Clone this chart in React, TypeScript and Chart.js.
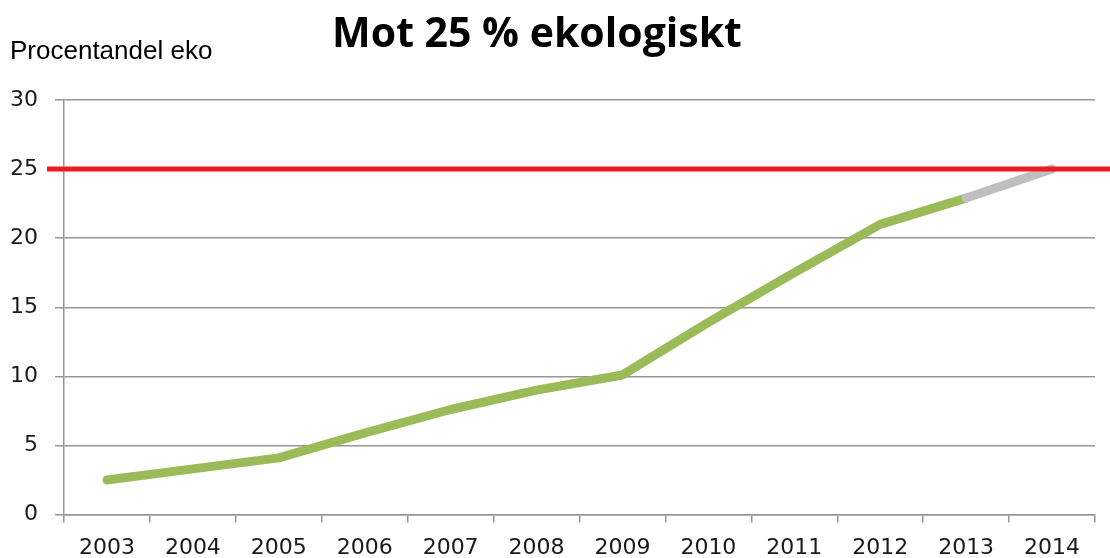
import React, { useEffect, useRef } from "react";
import { Chart, registerables } from "chart.js";

Chart.register(...registerables);

const categories = ["2003", "2004", "2005", "2006", "2007", "2008", "2009", "2010", "2011", "2012", "2013", "2014"];
const ecoShare = [2.5, 3.3, 4.1, 5.9, 7.6, 9.0, 10.1, 13.9, 17.5, 21.0, 22.9, null];
const forecast = [null, null, null, null, null, null, null, null, null, null, 22.9, 25.0];
const targetValue = 25;
const yTicks = [0, 5, 10, 15, 20, 25, 30];
const titleText = "Mot 25 % ekologiskt";
const yAxisTitle = "Procentandel eko";

const overlayPlugin = {
  id: "overlay",
  afterDatasetsDraw(chart: any) {
    const { ctx, scales, chartArea, width } = chart;
    const y = scales.y.getPixelForValue(targetValue);
    ctx.save();
    ctx.strokeStyle = "#ed1c24";
    ctx.lineWidth = 5;
    ctx.beginPath();
    ctx.moveTo(chartArea.left - 17, y);
    ctx.lineTo(width, y);
    ctx.stroke();
    ctx.restore();
  },
  afterDraw(chart: any) {
    const { ctx } = chart;
    ctx.save();
    ctx.fillStyle = "#000000";
    ctx.font = "bold 41px 'Open Sans'";
    ctx.textAlign = "center";
    ctx.textBaseline = "alphabetic";
    ctx.fillText(titleText, 537, 47);
    ctx.font = "26px 'Liberation Sans'";
    ctx.textAlign = "left";
    ctx.fillText(yAxisTitle, 10, 59);
    ctx.restore();
  },
};

export default function App() {
  const ref = useRef<HTMLCanvasElement | null>(null);
  useEffect(() => {
    if (!ref.current) return;
    const chart = new Chart(ref.current, {
      type: "line",
      data: {
        labels: categories,
        datasets: [
          {
            data: forecast,
            borderColor: "#bfbfbf",
            borderWidth: 9,
            borderCapStyle: "round",
            pointRadius: 0,
            order: 0,
            spanGaps: false,
          },
          {
            data: ecoShare,
            borderColor: "#9bbb59",
            borderWidth: 9,
            borderCapStyle: "round",
            borderJoinStyle: "round",
            pointRadius: 0,
            order: 1,
          },
        ],
      },
      options: {
        animation: false,
        responsive: true,
        maintainAspectRatio: false,
        layout: { padding: { top: 100, right: 15, left: 0, bottom: 0 } },
        plugins: { legend: { display: false }, tooltip: { enabled: false }, title: { display: false } },
        scales: {
          x: {
            offset: true,
            grid: { offset: true, drawOnChartArea: false, drawTicks: true, tickLength: 8, color: "#969696", lineWidth: 1.5 },
            border: { color: "#969696", width: 1.5 },
            ticks: { color: "#1a1a1a", font: { family: "DejaVu Sans", size: 22 }, padding: 13, maxRotation: 0, autoSkip: false },
            afterFit: (s: any) => { s.height = 43.5; },
          },
          y: {
            min: 0,
            max: 30,
            afterBuildTicks: (s: any) => { s.ticks = yTicks.map((v) => ({ value: v })); },
            grid: { color: "#969696", lineWidth: 1.5, drawTicks: true, tickLength: 9 },
            border: { color: "#969696", width: 1.5 },
            ticks: { color: "#1a1a1a", font: { family: "DejaVu Sans", size: 22 }, padding: 17 },
            afterFit: (s: any) => { s.width = 64; },
          },
        },
      },
      plugins: [overlayPlugin],
    });
    return () => chart.destroy();
  }, []);
  return (
    <div style={{ position: "absolute", left: 0, top: 0, width: 1110, height: 558, background: "#fff" }}>
      <canvas ref={ref} />
    </div>
  );
}
